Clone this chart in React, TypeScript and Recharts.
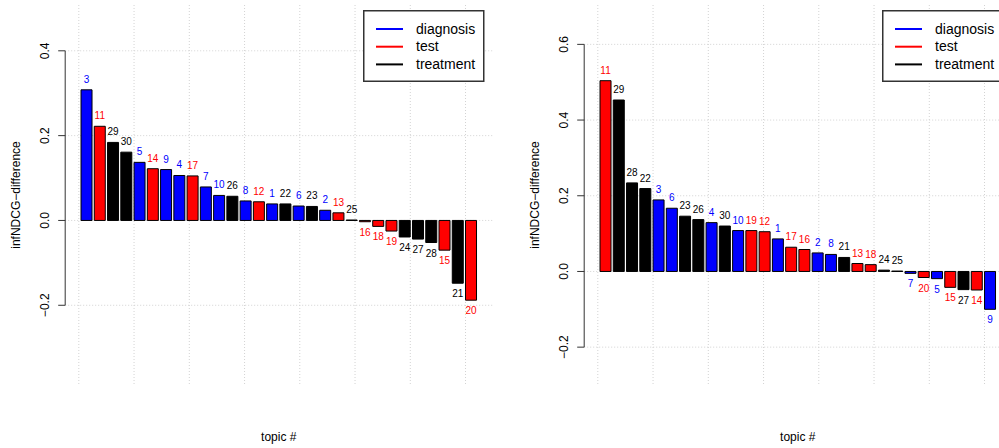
import { BarChart, Bar, Cell, XAxis, YAxis, CartesianGrid, LabelList, ReferenceLine } from "recharts";

const groups = ["diagnosis", "test", "treatment"];
const groupColors = ["#0000FF", "#FF0000", "#000000"];

const leftTopics = [3, 11, 29, 30, 5, 14, 9, 4, 17, 7, 10, 26, 8, 12, 1, 22, 6, 23, 2, 13, 25, 16, 18, 19, 24, 27, 28, 15, 21, 20];
const leftValues = [0.308, 0.222, 0.184, 0.161, 0.137, 0.122, 0.12, 0.106, 0.105, 0.079, 0.059, 0.057, 0.046, 0.044, 0.039, 0.039, 0.034, 0.033, 0.024, 0.018, 0.001, -0.003, -0.014, -0.025, -0.039, -0.044, -0.052, -0.07, -0.148, -0.188];
const leftTicks = [-0.2, 0, 0.2, 0.4];

const rightTopics = [11, 29, 28, 22, 3, 6, 23, 26, 4, 30, 10, 19, 12, 1, 17, 16, 2, 8, 21, 13, 18, 24, 25, 7, 20, 5, 15, 27, 14, 9];
const rightValues = [0.504, 0.453, 0.234, 0.219, 0.189, 0.167, 0.146, 0.137, 0.129, 0.12, 0.108, 0.108, 0.105, 0.086, 0.064, 0.058, 0.049, 0.045, 0.037, 0.021, 0.018, 0.0035, 0.001, -0.005, -0.016, -0.019, -0.042, -0.048, -0.049, -0.1];
const rightTicks = [-0.2, 0, 0.2, 0.4, 0.6];

const xGridTicks = [0, 5, 10, 15, 20, 25, 30, 35];

const FONT = "'Liberation Sans', Arial, Helvetica, sans-serif";
const W = 519;
const H = 448;

// topics 1-10 diagnosis, 11-20 test, 21-30 treatment
const groupOf = (t: number) => Math.min(2, Math.floor((t - 1) / 10));
const fmt = (v: number) => v.toFixed(1).replace("-", "\u2212");

function YTick(p: any) {
  const { x, y, payload } = p;
  return (
    <text x={x} y={y} transform={`rotate(-90 ${x} ${y})`} textAnchor="middle" fontSize={12} fill="#000">
      {fmt(payload.value)}
    </text>
  );
}

function Legend() {
  return (
    <svg width={121} height={72} style={{ position: "absolute", left: 363, top: 10, overflow: "visible" }}>
      <rect x={0.75} y={0.75} width={120} height={70.5} fill="#fff" stroke="#333" strokeWidth={1.5} />
      {groups.map((g, i) => (
        <g key={g}>
          <line x1={13} x2={40} y1={19 + i * 17.7} y2={19 + i * 17.7} stroke={groupColors[i]} strokeWidth={2} />
          <text x={53} y={23.5 + i * 17.7} fontSize={14} fontFamily={FONT} fill="#000">{g}</text>
        </g>
      ))}
    </svg>
  );
}

function Panel({ topics, values, ticks, left }: { topics: number[]; values: number[]; ticks: number[]; left: number }) {
  const data = topics.map((t, i) => ({ pos: 0.7 + 1.2 * i, topic: t, value: values[i], group: groupOf(t) }));
  const lo = 0.2, hi = 1.2 * topics.length, pad = 0.04 * (hi - lo);
  const xDomain = [lo - pad, hi + pad];
  const yDomain = [Math.min(...values) - 0.2, Math.max(...values) + 0.2];

  const renderLabel = (p: any) => {
    const vb = p.viewBox ?? p;
    const x = vb.x ?? p.x, y = vb.y ?? p.y, w = vb.width ?? p.width, h = vb.height ?? p.height;
    const row = data[p.index] ?? data.find((d) => d.topic === p.value);
    if (!row) return null;
    const top = Math.min(y, y + h), bottom = Math.max(y, y + h);
    const ty = row.value >= 0 ? top - 7 : bottom + 14;
    return (
      <text x={x + w / 2} y={ty} textAnchor="middle" fontSize={10} fill={groupColors[row.group]}>
        {row.topic}
      </text>
    );
  };

  // grid lines where R's grid() puts them: x at pretty ticks, y at the axis ticks
  const vGrid = ({ xAxis, offset }: any) =>
    xGridTicks.map((t) =>
      typeof xAxis?.scale === "function"
        ? xAxis.scale(t)
        : offset.left + ((t - xDomain[0]) / (xDomain[1] - xDomain[0])) * offset.width);
  const hGrid = ({ yAxis, offset }: any) =>
    ticks.map((t) =>
      typeof yAxis?.scale === "function"
        ? yAxis.scale(t)
        : offset.top + ((yDomain[1] - t) / (yDomain[1] - yDomain[0])) * offset.height);

  return (
    <div style={{ position: "absolute", left, top: 0, width: W, height: H }}>
      <BarChart width={W} height={H} data={data} margin={{ top: 5, right: 26.6, bottom: 0, left: 0 }}
        barCategoryGap="8.33%" style={{ fontFamily: FONT }}>
        <XAxis dataKey="pos" type="number" domain={xDomain} ticks={xGridTicks} interval={0}
          allowDataOverflow tick={false} tickLine={false} axisLine={false} height={63}
          label={(p: any) => {
            const vb = p.viewBox ?? { x: 65.2, y: 385, width: 427.2 };
            return <text x={vb.x + vb.width / 2} y={vb.y + 56} textAnchor="middle" fontSize={12} fill="#000">topic #</text>;
          }} />
        <YAxis type="number" domain={yDomain} ticks={ticks} interval={0} allowDataOverflow width={65.2}
          axisLine={false} tickSize={7} tickMargin={8.9} tickLine={{ stroke: "#333" }} tick={<YTick />}
          label={(p: any) => {
            const vb = p.viewBox ?? { x: 0, y: 5, height: 380 };
            const cx = 19.5, cy = vb.y + vb.height / 2;
            return <text x={cx} y={cy} transform={`rotate(-90 ${cx} ${cy})`} textAnchor="middle" fontSize={12} fill="#000">infNDCG−difference</text>;
          }} />
        <Bar dataKey="value" stroke="#000" strokeWidth={1} isAnimationActive={false}>
          {data.map((d) => (
            <Cell key={d.topic} fill={groupColors[d.group]} />
          ))}
          <LabelList dataKey="topic" content={renderLabel} />
        </Bar>
        <CartesianGrid stroke="#d3d3d3" strokeDasharray="1 2"
          verticalCoordinatesGenerator={vGrid} horizontalCoordinatesGenerator={hGrid} />
        <ReferenceLine segment={[{ x: xDomain[0], y: ticks[0] }, { x: xDomain[0], y: ticks[ticks.length - 1] }]}
          stroke="#333" strokeWidth={1} ifOverflow="visible" />
      </BarChart>
      <Legend />
    </div>
  );
}

export default function App() {
  return (
    <div style={{ position: "absolute", left: 0, top: 0, width: 999, height: 448, overflow: "hidden", background: "#fff", fontFamily: FONT }}>
      <Panel topics={leftTopics} values={leftValues} ticks={leftTicks} left={0} />
      <Panel topics={rightTopics} values={rightValues} ticks={rightTicks} left={W} />
    </div>
  );
}
